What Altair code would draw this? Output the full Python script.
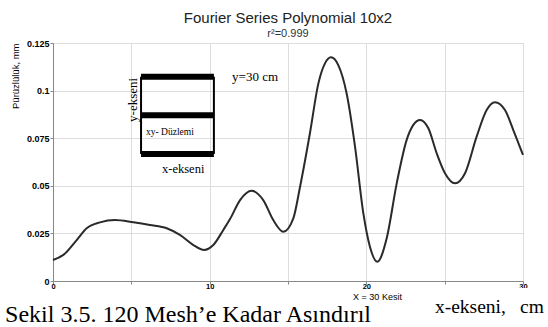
import altair as alt
import pandas as pd

# Curve values
xs = [0.0, 0.66, 1.51, 2.15, 3.0, 3.96, 5.13, 6.19, 7.26, 8.1, 8.96, 9.64, 10.23, 10.87,
      11.3, 11.94, 12.68, 13.42, 14.06, 14.7, 15.34, 15.77, 16.4, 16.94, 17.36, 17.74,
      18.21, 18.74, 19.28, 19.81, 20.23, 20.7, 21.3, 21.94, 22.57, 23.0, 23.43, 23.96,
      24.49, 25.02, 25.66, 26.3, 27.04, 27.68, 28.21, 28.85, 29.38, 30.0]
ys = [0.0110, 0.0137, 0.0215, 0.0277, 0.0308, 0.0320, 0.0308, 0.0294, 0.0277, 0.0242,
      0.0189, 0.0163, 0.0189, 0.0268, 0.0325, 0.0425, 0.0474, 0.0425, 0.0320, 0.0259,
      0.0329, 0.0495, 0.0776, 0.1038, 0.1143, 0.1175, 0.1134, 0.0986, 0.0705, 0.0355,
      0.0180, 0.0101, 0.0225, 0.0513, 0.0740, 0.0820, 0.0846, 0.0802, 0.0671, 0.0566,
      0.0513, 0.0566, 0.0758, 0.0898, 0.0939, 0.0898, 0.0793, 0.0662]

x_ticks = [0, 5, 10, 15, 20, 25, 30]
y_ticks = [0, 0.025, 0.05, 0.075, 0.1, 0.125]

# Inset diagram (in data units)
inset_x = [5.62, 10.27]
inset_h_y = [0.1073, 0.0870, 0.0667]

# Annotation texts (in data units)
ann_text = ["xy- Düzlemi", "x-ekseni", "y=30 cm"]
ann_x = [5.94, 6.96, 11.43]
ann_y = [0.0783, 0.0588, 0.1071]
ann_size = [9.5, 12.5, 13]

FONT = "Liberation Sans"
SERIF = "Liberation Serif"

xsc = alt.Scale(domain=[0, 30], nice=False, zero=False)
ysc = alt.Scale(domain=[0, 0.125], nice=False, zero=False)

df = pd.DataFrame({"x": xs, "y": ys})

line = alt.Chart(df).mark_line(color="#2a2a2a", strokeWidth=2, interpolate="monotone").encode(
    x=alt.X("x:Q", scale=xsc, axis=alt.Axis(
        values=x_ticks, grid=True, title="X = 30 Kesit",
        labelExpr="datum.value % 10 == 0 ? datum.label : ''",
        labelFlush=False, labelFontSize=7.5, labelFontWeight="bold", labelPadding=-2,
        tickSize=3, titleFontSize=9, titleFontWeight="normal", titleX=324, titleY=18,
        titleAlign="center", titleBaseline="alphabetic")),
    y=alt.Y("y:Q", scale=ysc, axis=alt.Axis(
        values=y_ticks, grid=True, title="Pürüzlülük,  mm", format=".3~f",
        labelFontSize=9, labelFontWeight="bold", labelPadding=1, tickSize=3,
        titleFontSize=9.5, titleFontWeight="normal", titleAngle=270, titleX=-35, titleY=0,
        titleAlign="right", titleBaseline="alphabetic")),
)

hdf = pd.DataFrame({"x": [inset_x[0]] * 3, "x2": [inset_x[1]] * 3, "y": inset_h_y})
hrules = alt.Chart(hdf).mark_rule(color="black", strokeWidth=6).encode(
    x=alt.X("x:Q", scale=xsc), x2="x2:Q", y=alt.Y("y:Q", scale=ysc))

vdf = pd.DataFrame({"x": inset_x, "y": [min(inset_h_y)] * 2, "y2": [max(inset_h_y)] * 2})
vrules = alt.Chart(vdf).mark_rule(color="black", strokeWidth=2).encode(
    x=alt.X("x:Q", scale=xsc), y=alt.Y("y:Q", scale=ysc), y2="y2:Q")

adf = pd.DataFrame({"t": ann_text, "x": ann_x, "y": ann_y, "s": ann_size})
ann = alt.Chart(adf).mark_text(font=SERIF, align="left", baseline="middle", color="black").encode(
    x=alt.X("x:Q", scale=xsc), y=alt.Y("y:Q", scale=ysc), text="t:N",
    size=alt.Size("s:Q", scale=None, legend=None))

yeks = alt.Chart(pd.DataFrame({"t": ["y-ekseni"], "x": [5.11], "y": [0.0951]})).mark_text(
    font=SERIF, fontSize=13, angle=270, align="center", baseline="middle", color="black").encode(
    x=alt.X("x:Q", scale=xsc), y=alt.Y("y:Q", scale=ysc), text="t:N")

wbox = alt.Chart(pd.DataFrame({"x": [24.06], "x2": [31.6], "y": [-0.0037], "y2": [-0.0250]})).mark_rect(
    color="white").encode(x=alt.X("x:Q", scale=xsc), x2="x2:Q", y=alt.Y("y:Q", scale=ysc), y2="y2:Q")

cap_text = ["Sekil 3.5. 120 Mesh’e Kadar Asındırıl", "x-ekseni,", "cm"]
cap_x = [-3.06, 24.38, 29.81]
cap_y = [-0.02169, -0.0168, -0.0168]
cap_size = [24, 19.5, 19.5]
cdf = pd.DataFrame({"t": cap_text, "x": cap_x, "y": cap_y, "s": cap_size})
caps = alt.Chart(cdf).mark_text(font=SERIF, align="left", baseline="alphabetic", color="black").encode(
    x=alt.X("x:Q", scale=xsc), y=alt.Y("y:Q", scale=ysc), text="t:N",
    size=alt.Size("s:Q", scale=None, legend=None))

chart = alt.layer(line, hrules, vrules, ann, yeks, wbox, caps).properties(
    width=470, height=238,
    autosize=alt.AutoSizeParams(type="none"),
    padding={"left": 53, "top": 43, "right": 25, "bottom": 46},
    title=alt.Title("Fourier Series Polynomial 10x2", subtitle="r²=0.999",
                    font=FONT, fontSize=15, fontWeight="normal", color="#222",
                    subtitleFont=FONT, subtitleFontSize=11, subtitleColor="#333",
                    subtitlePadding=2, anchor="middle", offset=0),
).configure_view(stroke="#b5b5b5").configure_axis(
    labelFont=FONT, titleFont=FONT, gridColor="#d2d2d2", domainColor="#8a8a8a",
    tickColor="#8a8a8a", labelColor="#222", titleColor="#222",
).configure(background="white")

chart.save("out.html", embed_options={"renderer": "svg", "actions": False})
